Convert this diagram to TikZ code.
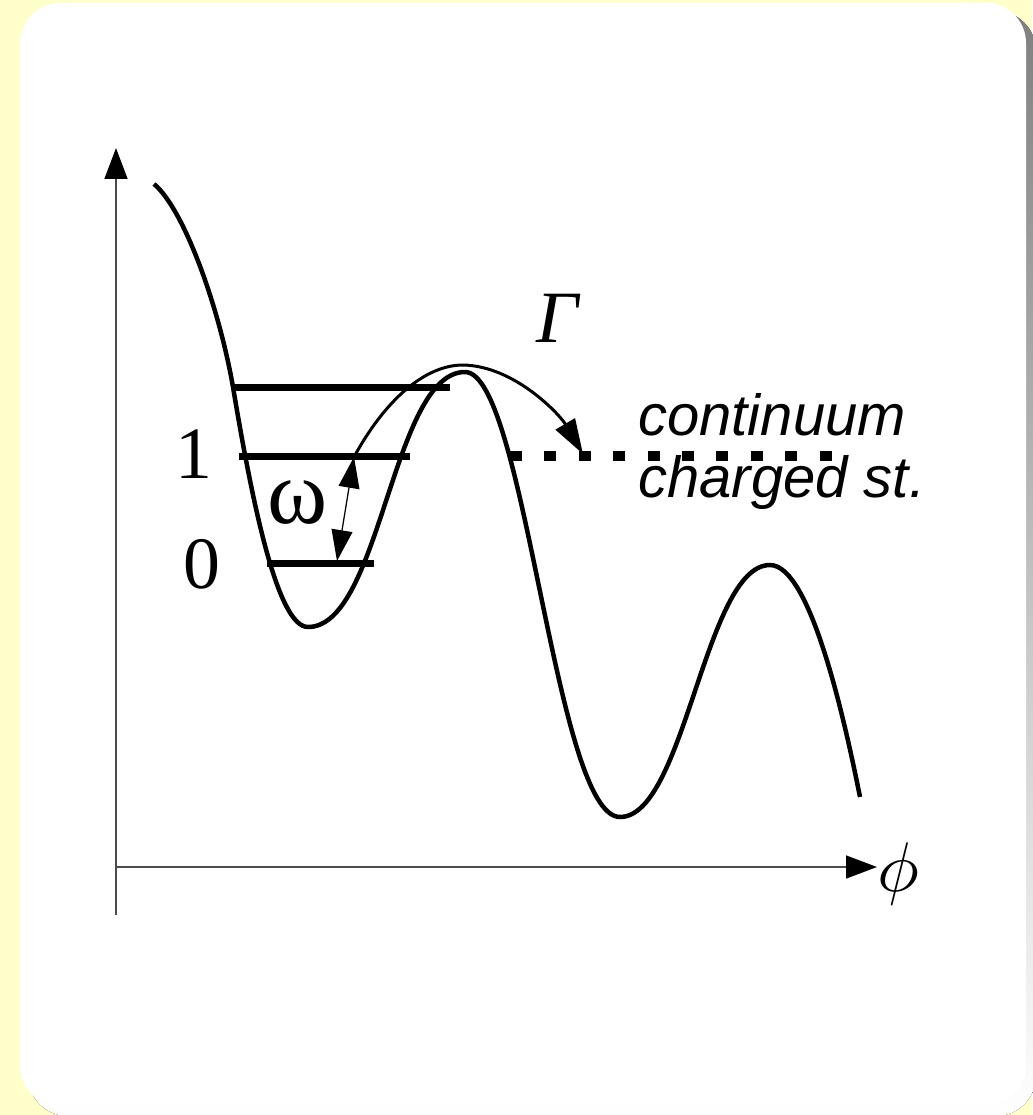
\documentclass[tikz,border=0pt]{standalone}
\usepackage{fontspec}
\setmainfont{Liberation Serif}
\newfontfamily\labelsans{Liberation Sans}
\usetikzlibrary{arrows.meta}

\definecolor{paper}{HTML}{FFFFCC}
\definecolor{shade}{HTML}{808080}

\tikzset{
  axis/.style={line width=0.03cm, black!70, -{Triangle[length=0.62cm,width=0.46cm,color=black]}},
  level/.style={line width=0.14cm},
  potential/.style={line width=0.09cm, line join=round},
  numlabel/.style={anchor=base, inner sep=0pt, font=\fontsize{42}{42}\selectfont},
  textlabel/.style={anchor=base west, inner sep=0pt, font=\labelsans\itshape\fontsize{33}{40}\selectfont},
}

\begin{document}
\begin{tikzpicture}[x=0.02cm, y=-0.02cm]
    \useasboundingbox (0,0) rectangle (1032,1115);
    % card on yellow paper
    \fill[paper] (0,0) rectangle (1032,1115);
    \fill[shade, rounded corners=0.8cm] (28,11) rectangle (1036,1116);
    \fill[white, rounded corners=0.8cm] (20,3) rectangle (1026,1106);

    % axes
    \coordinate (ybot) at (116,915);
    \coordinate (ytop) at (116,148);
    \coordinate (xleft) at (115,867);
    \coordinate (xright) at (877,867);
    \draw[axis] (ybot) -- (ytop);
    \draw[axis] (xleft) -- (xright);
    \node[inner sep=0pt, scale=4] (phi) at (898,874) {$\phi$};

    % potential
    \draw[potential] (154,184) .. controls (184,209) and (219,307) .. (233,387)
      .. controls (253,507) and (278,627) .. (308,627)
      .. controls (381,627) and (392,372) .. (465,372)
      .. controls (525,372) and (555,817) .. (620,817)
      .. controls (685,817) and (705,565) .. (770,565)
      .. controls (810,565) and (844,717) .. (860,797);

    % levels
    \draw[level] (232,387) -- (450,387);
    \draw[level] (239,456) -- (410,456);
    \draw[level] (267,563) -- (374,563);
    \draw[line width=0.2cm, dash pattern=on 0.24cm off 0.448cm] (510,456) -- (834,456);

    % labels
    \node[numlabel] (one) at (194,478) {1};
    \node[numlabel] (zero) at (202,588) {0};
    \node[numlabel, font=\fontsize{52}{52}\selectfont] (omega) at (298,523) {ω};
    \node[numlabel, font=\itshape\fontsize{42}{42}\selectfont] (gamma) at (557,342) {Γ};
    \node[textlabel] (cont) at (638,435) {continuum};
    \node[textlabel] (charged) at (638,497) {charged st.};

    % transitions
    \coordinate (w0) at (337,561);
    \coordinate (w1) at (354,457);
    \coordinate (top) at (463,365);
    \coordinate (land) at (583,454);
    \draw[line width=0.025cm, {Triangle[length=0.62cm,width=0.42cm]}-{Triangle[length=0.62cm,width=0.42cm]}] (w0) -- (w1);
    \draw[line width=0.06cm, -{Triangle[length=0.7cm,width=0.44cm]}]
      (w1) .. controls (385,400) and (425,365) .. (top)
      .. controls (515,366) and (560,415) .. (land);
\end{tikzpicture}
\end{document}
